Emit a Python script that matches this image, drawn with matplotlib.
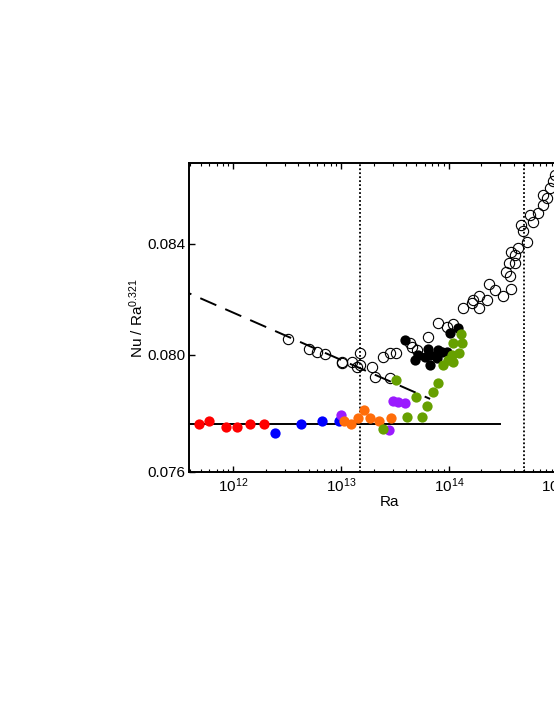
import numpy as np
import matplotlib
matplotlib.use('Agg')
import matplotlib.pyplot as plt
from matplotlib.ticker import FixedLocator, FormatStrFormatter, NullLocator, LogLocator

plt.rcParams['font.family'] = ['Liberation Sans', 'DejaVu Sans']
plt.rcParams['mathtext.fontset'] = 'custom'
plt.rcParams['mathtext.rm'] = 'Liberation Sans'
plt.rcParams['mathtext.it'] = 'Liberation Sans:italic'

# data (Ra, Nu/Ra^0.321)
ra_red = [4.8e11, 6.0e11, 8.5e11, 1.09e12, 1.44e12, 1.94e12]
nu_red = [0.0776, 0.0777, 0.0775, 0.0775, 0.0776, 0.0776]

ra_blue = [2.44e12, 4.28e12, 6.7e12, 9.55e12]
nu_blue = [0.0773, 0.0776, 0.0777, 0.0777]

ra_purple = [1.0e13, 2.81e13, 3.05e13, 3.4e13, 3.92e13]
nu_purple = [0.0779, 0.0774, 0.0784, 0.07836, 0.07832]

ra_orange = [1.06e13, 1.23e13, 1.44e13, 1.64e13, 1.85e13, 2.26e13, 2.88e13]
nu_orange = [0.0777, 0.0776, 0.0778, 0.0781, 0.0778, 0.0777, 0.0778]

ra_green = [2.43e13, 3.23e13, 4.06e13, 4.95e13, 5.6e13, 6.31e13, 7.17e13, 7.98e13,
            8.88e13, 9.86e13, 1.06e14, 1.10e14, 1.10e14, 1.25e14, 1.29e14, 1.33e14]
nu_green = [0.07743, 0.07912, 0.07784, 0.07852, 0.07784, 0.07822, 0.07871, 0.07902,
            0.07966, 0.07982, 0.07999, 0.07976, 0.0804, 0.08007, 0.08072, 0.08042]

ra_black = [3.92e13, 4.85e13, 5.2e13, 5.98e13, 6.44e13, 6.68e13, 6.68e13, 7.71e13,
            7.98e13, 8.57e13, 9.55e13, 1.02e14, 1.22e14]
nu_black = [0.08052, 0.07982, 0.07999, 0.07993, 0.08022, 0.07999, 0.07964, 0.07988,
            0.08017, 0.08011, 0.08011, 0.08076, 0.08093]

ra_open = [3.24e12, 5.04e12, 6.01e12, 7.04e12, 1.01e13, 1.03e13, 1.27e13, 1.41e13,
           1.50e13, 1.49e13, 1.92e13, 2.06e13, 2.46e13, 2.84e13, 3.23e13, 2.84e13,
           4.36e13, 4.52e13, 5.03e13, 6.44e13, 7.98e13, 9.54e13, 1.10e14, 1.34e14,
           1.63e14, 1.68e14, 1.91e14, 1.91e14, 2.24e14, 2.37e14, 2.68e14, 3.20e14,
           3.74e14, 3.69e14, 3.39e14, 3.61e14, 4.10e14, 4.10e14, 3.74e14, 4.40e14,
           4.64e14, 4.84e14, 5.34e14, 5.65e14, 6.07e14, 6.75e14, 7.51e14, 7.41e14,
           8.18e14, 8.67e14, 9.18e14, 9.64e14]
nu_open = [0.08055, 0.0802, 0.08011, 0.08003, 0.07976, 0.0797, 0.07976, 0.07956,
           0.08005, 0.07964, 0.07958, 0.07923, 0.07991, 0.08005, 0.08005, 0.07918,
           0.0804, 0.08028, 0.08017, 0.08064, 0.08111, 0.08099, 0.08109, 0.08166,
           0.08184, 0.08196, 0.08208, 0.08166, 0.08196, 0.08252, 0.08229, 0.0821,
           0.08234, 0.0828, 0.08295, 0.08329, 0.08329, 0.08359, 0.08368, 0.08383,
           0.0847, 0.08445, 0.08405, 0.08507, 0.08479, 0.08513, 0.08544, 0.08582,
           0.08569, 0.08607, 0.08632, 0.08657]

# fits
fit_pref = 0.1045
fit_exp = -0.009
fit_ra = [1e11, 6.7e13]
flat_val = 0.0776
flat_ra = [1e11, 3e14]
ra_marks = [1.5e13, 5e14]

fig = plt.figure(figsize=(5.54, 7.17), dpi=100)
ax = fig.add_axes([0.3417, 0.3421, 0.7215, 0.4301])
ax.set_xscale('log')
ax.set_yscale('log')

for r in ra_marks:
    ax.axvline(r, color='k', ls=(0, (1, 1.2)), lw=1.3, zorder=1)

fr = np.array(fit_ra)
ax.plot(fr, fit_pref * fr ** fit_exp, color='k', lw=1.4, dashes=(9, 5), dash_capstyle='butt', zorder=2)
ax.plot(flat_ra, [flat_val, flat_val], color='k', lw=1.4, zorder=2)

ax.plot(ra_open, nu_open, 'o', ms=7.4, mfc='none', mec='k', mew=0.8, zorder=3)
ms = 7.4
ax.plot(ra_red, nu_red, 'o', ms=ms, color='#ff0000', mec='none', zorder=4)
ax.plot(ra_blue, nu_blue, 'o', ms=ms, color='#0000ff', mec='none', zorder=4)
ax.plot(ra_purple, nu_purple, 'o', ms=ms, color='#9b1bff', mec='none', zorder=5)
ax.plot(ra_orange, nu_orange, 'o', ms=ms, color='#ff6d0a', mec='none', zorder=6)
ax.plot(ra_black, nu_black, 'o', ms=ms, color='k', mec='none', zorder=6)
ax.plot(ra_green, nu_green, 'o', ms=ms, color='#66a000', mec='none', zorder=7)

ax.set_xlim(10 ** 11.592, 10 ** 15.3)
ax.set_ylim(0.076, 0.08701)

ax.yaxis.set_major_locator(FixedLocator([0.076, 0.080, 0.084]))
ax.yaxis.set_major_formatter(FormatStrFormatter('%.3f'))
ax.yaxis.set_minor_locator(NullLocator())
ax.xaxis.set_major_locator(LogLocator(base=10, numticks=10))
ax.xaxis.set_minor_locator(LogLocator(base=10, subs=np.arange(2, 10), numticks=20))

ax.tick_params(which='both', direction='in', top=True, right=True, labelsize=11)
ax.tick_params(which='major', length=4, width=1)
ax.tick_params(which='minor', length=2, width=0.8)
ax.tick_params(axis='y', pad=3)
for s in ax.spines.values():
    s.set_linewidth(1.4)

ax.set_xlabel('Ra', fontsize=11, labelpad=0)
ax.set_ylabel('Nu / Ra$^{0.321}$', fontsize=11, labelpad=1)

fig.savefig('out.png', dpi=100)
